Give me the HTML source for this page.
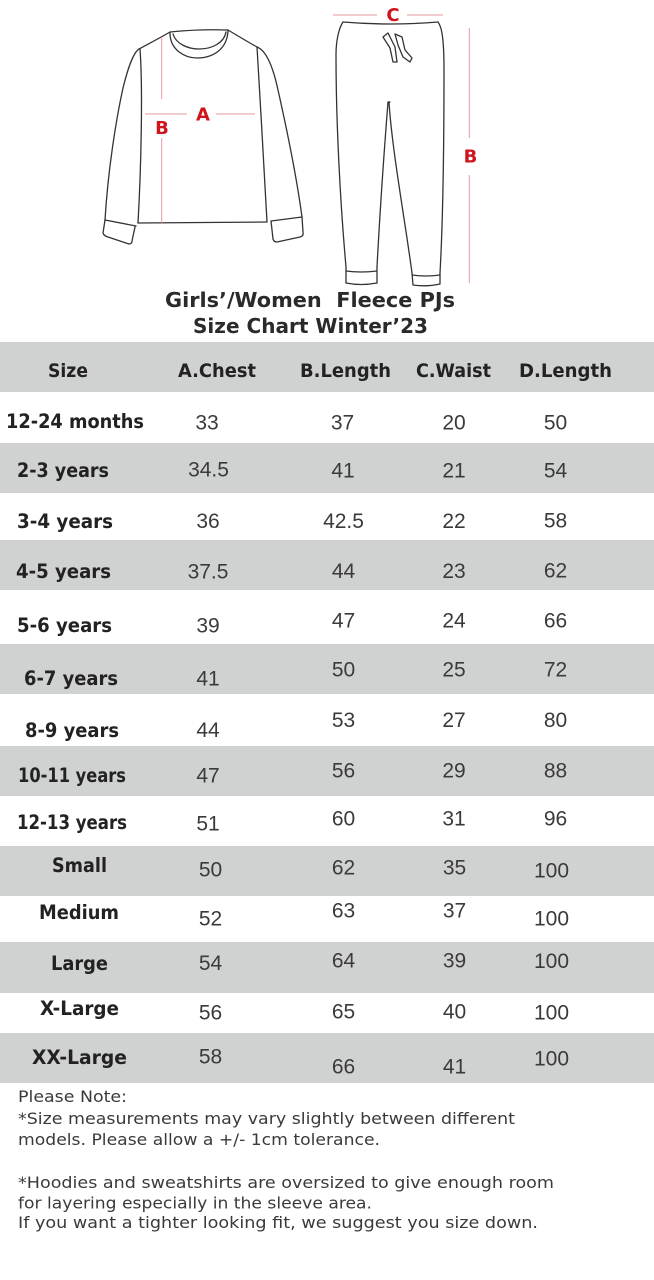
<!DOCTYPE html>
<html><head><meta charset="utf-8"><style>
html,body{margin:0;padding:0;background:#fff;}
svg{display:block;}
.lab{font-family:"DejaVu Sans","Liberation Sans",sans-serif;font-weight:bold;font-size:19.5px;fill:#222;}
.hd{font-family:"DejaVu Sans","Liberation Sans",sans-serif;font-weight:bold;font-size:19px;fill:#222;}
.v{font-family:"Liberation Sans","DejaVu Sans",sans-serif;font-size:21px;fill:#3a3a3a;text-anchor:middle;}
.nt{font-family:"DejaVu Sans","Liberation Sans",sans-serif;font-size:16px;fill:#3a3a3a;}
.tt{font-family:"DejaVu Sans","Liberation Sans",sans-serif;font-weight:bold;font-size:20.5px;fill:#2a2a2a;}
.rl{font-family:"DejaVu Sans","Liberation Sans",sans-serif;font-weight:bold;font-size:18px;fill:#d0141e;text-anchor:middle;}
</style></head><body>
<svg width="654" height="1280" viewBox="0 0 654 1280" xmlns="http://www.w3.org/2000/svg">
<rect width="654" height="1280" fill="#fff"/>
<!-- illustration -->
<g fill="none" stroke="#333" stroke-width="1.3" stroke-linecap="round" stroke-linejoin="round">
 <path d="M170,32 Q199,29 228,30"/>
 <path d="M170,33 C170,50 185,58 197,58 C212,58 227,50 228,31"/>
 <path d="M173,34 C176,44 188,49 199,49 C212,49 224,43 226,32"/>
 <path d="M170,32 C160,38 148,44 139,49"/>
 <path d="M139,49 C133,53 128,68 123,88 C116,120 108,170 105,220"/>
 <path d="M105,220 L103,233 Q104,236 108,237 L129,244 Q132,244 132,241 L135,227"/>
 <path d="M105,220 L136,226"/>
 <path d="M140,49 C143,90 141,170 138,223"/>
 <path d="M138,223 L267,222"/>
 <path d="M228,30 C238,36 248,42 257,47"/>
 <path d="M257,47 C260,100 265,180 267,222"/>
 <path d="M257,47 C265,50 272,62 278,90 C287,130 297,180 302,217"/>
 <path d="M271,221 L273,239 Q274,242 277,242 L300,237 Q304,236 303,232 L302,217"/>
 <path d="M271,221 L302,217"/>
 <!-- pants -->
 <path d="M343,22 Q390,26 438,22"/>
 <path d="M343,22 C339,28 336,40 336,55 C336,120 340,200 346,267 L346,283"/>
 <path d="M346,283 Q361,286 377,283"/>
 <path d="M346,271 Q361,273 377,271"/>
 <path d="M377,283 L377,267"/>
 <path d="M377,267 C380,210 385,140 388,102"/>
 <path d="M388,102 L390,102"/>
 <path d="M389,102 C392,150 405,220 412,273"/>
 <path d="M412,273 L413,285 Q427,287 440,284 L440,273"/>
 <path d="M412,275 Q426,277 440,275"/>
 <path d="M438,22 C442,27 444,40 444,70 C444,150 443,220 440,273"/>
 <path d="M388,33 L383,37 L390,48 L393,62 L397,62 L395,47 Z"/>
 <path d="M395,34 L402,37 L405,50 L412,58 L410,62 L403,57 L398,45 Z"/>
</g>
<g stroke="#e59a9e" stroke-width="1" fill="none">
 <line x1="161.7" y1="37" x2="161.7" y2="99"/>
 <line x1="161.7" y1="138" x2="161.7" y2="223"/>
 <line x1="145" y1="114" x2="187" y2="114"/>
 <line x1="216" y1="114" x2="255" y2="114"/>
 <line x1="333" y1="15" x2="377" y2="15"/>
 <line x1="407" y1="15" x2="443" y2="15"/>
 <line x1="469.3" y1="28" x2="469.3" y2="138"/>
 <line x1="469.3" y1="175" x2="469.3" y2="283"/>
</g>
<text class="rl" x="203" y="120.5">A</text>
<text class="rl" x="162" y="134">B</text>
<text class="rl" x="393" y="21">C</text>
<text class="rl" x="470.5" y="162.5">B</text>
<!-- title -->
<text class="tt" x="165" y="307" textLength="290" lengthAdjust="spacingAndGlyphs" xml:space="preserve">Girls’/Women  Fleece PJs</text>
<text class="tt" x="193" y="333" textLength="235" lengthAdjust="spacingAndGlyphs">Size Chart Winter’23</text>
<!-- bands -->
<g fill="#d0d2d1">
 <rect x="0" y="342" width="654" height="50"/>
 <rect x="0" y="443" width="654" height="50"/>
 <rect x="0" y="540" width="654" height="50"/>
 <rect x="0" y="644" width="654" height="50"/>
 <rect x="0" y="746" width="654" height="50"/>
 <rect x="0" y="846" width="654" height="50"/>
 <rect x="0" y="942" width="654" height="51"/>
 <rect x="0" y="1033" width="654" height="50"/>
</g>
<!-- header -->
<text class="hd" x="48" y="377" textLength="40" lengthAdjust="spacingAndGlyphs">Size</text>
<text class="hd" x="178" y="377" textLength="78" lengthAdjust="spacingAndGlyphs">A.Chest</text>
<text class="hd" x="300" y="377" textLength="91" lengthAdjust="spacingAndGlyphs">B.Length</text>
<text class="hd" x="416" y="377" textLength="75" lengthAdjust="spacingAndGlyphs">C.Waist</text>
<text class="hd" x="519" y="377" textLength="93" lengthAdjust="spacingAndGlyphs">D.Length</text>
<!-- labels -->
<text class="lab" x="6" y="428" textLength="138" lengthAdjust="spacingAndGlyphs">12-24 months</text>
<text class="lab" x="17" y="477" textLength="92" lengthAdjust="spacingAndGlyphs">2-3 years</text>
<text class="lab" x="17" y="528" textLength="96" lengthAdjust="spacingAndGlyphs">3-4 years</text>
<text class="lab" x="16" y="578" textLength="95" lengthAdjust="spacingAndGlyphs">4-5 years</text>
<text class="lab" x="17" y="632" textLength="95" lengthAdjust="spacingAndGlyphs">5-6 years</text>
<text class="lab" x="24" y="685" textLength="94" lengthAdjust="spacingAndGlyphs">6-7 years</text>
<text class="lab" x="25" y="737" textLength="94" lengthAdjust="spacingAndGlyphs">8-9 years</text>
<text class="lab" x="18" y="782" textLength="108" lengthAdjust="spacingAndGlyphs">10-11 years</text>
<text class="lab" x="17" y="829" textLength="110" lengthAdjust="spacingAndGlyphs">12-13 years</text>
<text class="lab" x="52" y="872" textLength="55" lengthAdjust="spacingAndGlyphs">Small</text>
<text class="lab" x="39" y="919" textLength="80" lengthAdjust="spacingAndGlyphs">Medium</text>
<text class="lab" x="51" y="970" textLength="57" lengthAdjust="spacingAndGlyphs">Large</text>
<text class="lab" x="40" y="1015" textLength="79" lengthAdjust="spacingAndGlyphs">X-Large</text>
<text class="lab" x="32" y="1064" textLength="95" lengthAdjust="spacingAndGlyphs">XX-Large</text>
<!-- values -->
<text class="v" x="207" y="429.5">33</text><text class="v" x="342.5" y="429.5">37</text><text class="v" x="454" y="429.5">20</text><text class="v" x="555.5" y="429.5">50</text>
<text class="v" x="208.5" y="476.5">34.5</text><text class="v" x="343" y="477.5">41</text><text class="v" x="454" y="477.5">21</text><text class="v" x="555.5" y="477.5">54</text>
<text class="v" x="208" y="528">36</text><text class="v" x="343.5" y="528">42.5</text><text class="v" x="454" y="528">22</text><text class="v" x="555.5" y="527.5">58</text>
<text class="v" x="208" y="578.5">37.5</text><text class="v" x="343.5" y="578">44</text><text class="v" x="454" y="578">23</text><text class="v" x="555.5" y="577.5">62</text>
<text class="v" x="208" y="632.5">39</text><text class="v" x="343.5" y="627.5">47</text><text class="v" x="454" y="627.5">24</text><text class="v" x="555.5" y="627.5">66</text>
<text class="v" x="208" y="685.5">41</text><text class="v" x="343.5" y="676.5">50</text><text class="v" x="454" y="676.5">25</text><text class="v" x="555.5" y="676.5">72</text>
<text class="v" x="208" y="737">44</text><text class="v" x="343.5" y="727">53</text><text class="v" x="454" y="727">27</text><text class="v" x="555.5" y="727">80</text>
<text class="v" x="208" y="782.5">47</text><text class="v" x="343.5" y="777.5">56</text><text class="v" x="454" y="777.5">29</text><text class="v" x="555.5" y="777.5">88</text>
<text class="v" x="208" y="830.5">51</text><text class="v" x="343.5" y="825.5">60</text><text class="v" x="454" y="825.5">31</text><text class="v" x="555.5" y="825.5">96</text>
<text class="v" x="210.5" y="876.5">50</text><text class="v" x="343.5" y="874.5">62</text><text class="v" x="454.5" y="874.5">35</text><text class="v" x="551.5" y="877.5">100</text>
<text class="v" x="210.5" y="925.5">52</text><text class="v" x="343.5" y="917.5">63</text><text class="v" x="454.5" y="917.5">37</text><text class="v" x="551.5" y="925.5">100</text>
<text class="v" x="210.5" y="970">54</text><text class="v" x="343.5" y="967.5">64</text><text class="v" x="454.5" y="967.5">39</text><text class="v" x="551.5" y="968">100</text>
<text class="v" x="210.5" y="1019.5">56</text><text class="v" x="343.5" y="1018.5">65</text><text class="v" x="454.5" y="1018.5">40</text><text class="v" x="551.5" y="1019.5">100</text>
<text class="v" x="210.5" y="1063.5">58</text><text class="v" x="343.5" y="1073.5">66</text><text class="v" x="454.5" y="1073.5">41</text><text class="v" x="551.5" y="1065.5">100</text>
<!-- notes -->
<text class="nt" x="18" y="1102" textLength="109" lengthAdjust="spacingAndGlyphs">Please Note:</text>
<text class="nt" x="18" y="1124" textLength="497" lengthAdjust="spacingAndGlyphs">*Size measurements may vary slightly between different</text>
<text class="nt" x="18" y="1145" textLength="362" lengthAdjust="spacingAndGlyphs">models. Please allow a +/- 1cm tolerance.</text>
<text class="nt" x="18" y="1188" textLength="536" lengthAdjust="spacingAndGlyphs">*Hoodies and sweatshirts are oversized to give enough room</text>
<text class="nt" x="18" y="1208.5" textLength="354" lengthAdjust="spacingAndGlyphs">for layering especially in the sleeve area.</text>
<text class="nt" x="18" y="1228" textLength="520" lengthAdjust="spacingAndGlyphs">If you want a tighter looking fit, we suggest you size down.</text>
</svg>
</body></html>
